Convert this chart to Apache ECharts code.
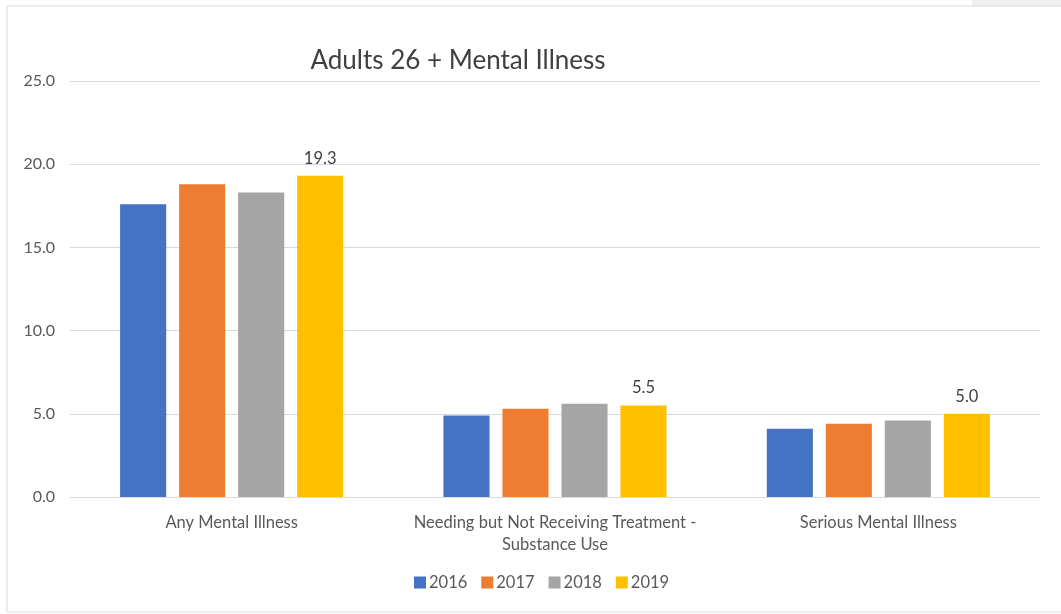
<!DOCTYPE html>
<html>
<head>
<meta charset="utf-8">
<script src="https://cdn.jsdelivr.net/npm/echarts@6/dist/echarts.min.js"></script>
<style>
  html, body { margin: 0; padding: 0; background: #ffffff; }
  #chart { width: 1061px; height: 614px; }
</style>
</head>
<body>
<div id="chart"></div>
<script>
// Category labels and yearly values (percent)
const categories = [
  'Any Mental Illness',
  'Needing but Not Receiving Treatment -\nSubstance Use',
  'Serious Mental Illness'
];
const years = ['2016', '2017', '2018', '2019'];
const values2016 = [17.6, 4.9, 4.1];
const values2017 = [18.8, 5.3, 4.4];
const values2018 = [18.3, 5.6, 4.6];
const values2019 = [19.3, 5.5, 5.0];
const colors = ['#4472C4', '#ED7D31', '#A5A5A5', '#FFC000'];

const FONT = 'Lato, "Open Sans", sans-serif';
const seriesData = [values2016, values2017, values2018, values2019];

const chart = echarts.init(document.getElementById('chart'), null, { renderer: 'canvas' });

chart.setOption({
  backgroundColor: '#ffffff',
  animation: false,
  color: colors,
  textStyle: { fontFamily: FONT },
  title: {
    text: 'Adults 26 + Mental Illness',
    left: 453,
    top: 43,
    textAlign: 'center',
    textStyle: { fontFamily: FONT, fontSize: 26, fontWeight: 'normal', color: '#404040' }
  },
  graphic: [
    {
      type: 'rect',
      shape: { x: 972, y: 0, width: 89, height: 6 },
      style: { fill: '#efefef' },
      silent: true
    },
    {
      type: 'rect',
      shape: { x: 7, y: 6, width: 1060, height: 606 },
      style: { fill: 'none', stroke: '#d9d9d9', lineWidth: 1 },
      silent: true
    }
  ],
  legend: {
    data: years,
    bottom: 18,
    left: 409,
    itemWidth: 12,
    itemHeight: 12,
    itemGap: 14,
    icon: 'rect',
    textStyle: { fontFamily: FONT, fontSize: 16.5, color: '#595959', padding: [0, 0, 0, -2] }
  },
  grid: { left: 70, right: 21, top: 81, bottom: 117, containLabel: false },
  xAxis: {
    type: 'category',
    data: categories,
    axisTick: { show: false },
    axisLine: { lineStyle: { color: '#d9d9d9' } },
    axisLabel: { fontFamily: FONT, fontSize: 16.5, color: '#595959', margin: 15, lineHeight: 22, interval: 0 }
  },
  yAxis: {
    type: 'value',
    min: 0,
    max: 25,
    interval: 5,
    axisLine: { show: false },
    axisTick: { show: false },
    splitLine: { lineStyle: { color: '#d9d9d9' } },
    axisLabel: { fontFamily: FONT, fontSize: 16, color: '#595959', margin: 15, formatter: v => v.toFixed(1) }
  },
  series: years.map((y, i) => ({
    name: y,
    type: 'bar',
    data: seriesData[i],
    barGap: '28%',
    barCategoryGap: '31%',
    itemStyle: { color: colors[i] },
    label: i === 3 ? {
      show: true,
      position: 'top',
      distance: 9,
      fontFamily: FONT,
      fontSize: 16.5,
      color: '#404040',
      formatter: p => p.value.toFixed(1)
    } : { show: false }
  }))
});
</script>
</body>
</html>
